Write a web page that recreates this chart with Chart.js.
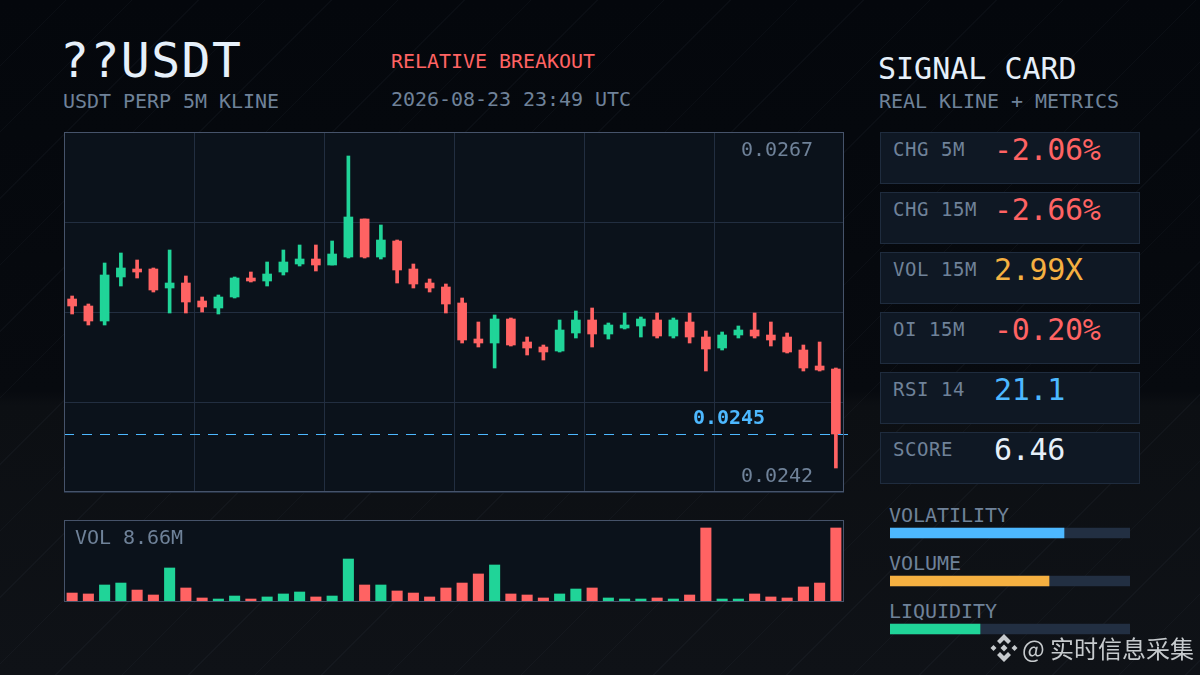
<!DOCTYPE html>
<html>
<head>
<meta charset="utf-8">
<script src="https://cdn.jsdelivr.net/npm/chart.js@4"></script>
<style>
  html, body { margin: 0; padding: 0; }
  body {
    width: 1200px; height: 675px; overflow: hidden; position: relative;
    font-family: "DejaVu Sans Mono", monospace;
    background:
      repeating-linear-gradient(135deg, transparent 0 46px, rgba(150,170,200,.04) 46px 47px),
      linear-gradient(180deg, #04070c 0%, #070a0f 58%, #0c0f13 60%, #0f1217 100%);
  }
  .t { position: absolute; white-space: pre; line-height: 1; }
  .muted { color: #6f8299; }
  .s20 { font-size: 20px; letter-spacing: -0.04px; }
  .panel { position: absolute; background: #0b121b; }
  .frame { position: absolute; box-sizing: border-box; border: 1px solid #46536a; pointer-events: none; }
  canvas { position: absolute; }
  .card { position: absolute; left: 880px; width: 260px; height: 52px; box-sizing: border-box; background: #0f1824; border: 1px solid #1f2c3e; }
  .card .lab { position: absolute; left: 12px; top: 7px; font-size: 19px; letter-spacing: .56px; line-height: 1; white-space: pre; color: #6f8299; }
  .card .val { position: absolute; left: 113px; top: 2px; font-size: 30px; letter-spacing: -.3px; line-height: 1; white-space: pre; }
</style>
</head>
<body>
<div class="t" style="left:60px;top:36px;font-size:48px;letter-spacing:1.5px;color:#e6f0fa">??USDT</div>
<div class="t muted s20" style="left:63px;top:91px">USDT PERP 5M KLINE</div>
<div class="t s20" style="left:391px;top:51px;color:#ff6363">RELATIVE BREAKOUT</div>
<div class="t muted s20" style="left:391px;top:89px">2026-08-23 23:49 UTC</div>
<div class="t" style="left:878px;top:54px;font-size:30px;color:#e6f0fa">SIGNAL CARD</div>
<div class="t muted s20" style="left:879px;top:91px">REAL KLINE + METRICS</div>

<div class="panel" style="left:64px;top:132px;width:780px;height:360px"></div>
<canvas id="candles" style="left:63px;top:131px"></canvas>
<div class="frame" style="left:64px;top:132px;width:780px;height:360px"></div>
<div class="t muted s20" style="left:741px;top:139px">0.0267</div>
<div class="t s20" style="left:693px;top:407px;color:#4db8ff;font-weight:bold">0.0245</div>
<div class="t muted s20" style="left:741px;top:465px">0.0242</div>

<div class="panel" style="left:64px;top:520px;width:780px;height:82px"></div>
<canvas id="volume" style="left:64px;top:520px"></canvas>
<div class="frame" style="left:64px;top:520px;width:780px;height:82px"></div>
<div class="t muted s20" style="left:75px;top:527px">VOL 8.66M</div>

<div id="cards"></div>
<div id="meterLabels"></div>
<canvas id="meters" style="left:890px;top:509px"></canvas>

<svg style="position:absolute;left:989px;top:633px" width="30" height="30" viewBox="0 0 30 30">
  <g fill="#c6cacd">
    <path d="M15 1l7 7-3 3-4-4-4 4-3-3z"/>
    <path d="M15 29l7-7-3-3-4 4-4-4-3 3z"/>
    <path d="M4.500 12l3 3-3 3-3-3z"/>
    <path d="M25.500 12l3 3-3 3-3-3z"/>
    <path d="M15 11.500l3.500 3.500-3.500 3.500-3.500-3.500z"/>
  </g>
</svg>
<div class="t" style="left:1022px;top:636px;font-family:'Noto Sans CJK SC';font-size:24px;color:#c6cacd">@ 实时信息采集</div>

<script>
const highs = [0.025568,0.025504,0.025832,0.025912,0.025856,0.025792,0.025936,0.025728,0.02556,0.025576,0.02572,0.02576,0.02584,0.025936,0.025976,0.025976,0.026008,0.026688,0.026184,0.026136,0.026016,0.025824,0.025704,0.025664,0.025552,0.02536,0.025416,0.025392,0.02524,0.025176,0.025376,0.025448,0.025472,0.025352,0.025432,0.0254,0.025432,0.025392,0.025432,0.025288,0.02528,0.025328,0.025432,0.02536,0.025272,0.025176,0.0252,0.024992];
const lows = [0.025424,0.025336,0.025336,0.025648,0.025712,0.0256,0.025432,0.025432,0.02544,0.025424,0.025552,0.02568,0.025648,0.025736,0.025808,0.025768,0.025816,0.025872,0.025872,0.025864,0.025672,0.025632,0.0256,0.025432,0.025192,0.02516,0.024992,0.025168,0.025096,0.025056,0.02512,0.025232,0.02516,0.025224,0.025304,0.02524,0.025232,0.025232,0.025192,0.024968,0.025136,0.025232,0.025232,0.025168,0.025112,0.024968,0.024968,0.024192];
const opens = [0.025544,0.025488,0.025368,0.02572,0.025784,0.025784,0.025632,0.025672,0.025528,0.025472,0.02556,0.025712,0.025688,0.02576,0.025824,0.025864,0.025816,0.02588,0.026184,0.02588,0.026008,0.025784,0.025672,0.02564,0.025512,0.025224,0.025192,0.025384,0.0252,0.02516,0.025128,0.025272,0.025376,0.025264,0.025312,0.025328,0.025376,0.025248,0.02536,0.02524,0.025152,0.025256,0.025296,0.025256,0.02524,0.025136,0.025008,0.024984];
const closes = [0.025488,0.025368,0.025736,0.025792,0.02576,0.025616,0.025672,0.02552,0.02548,0.02556,0.025712,0.025688,0.025744,0.02584,0.025864,0.025816,0.025904,0.0262,0.02588,0.026016,0.025776,0.025664,0.025632,0.025504,0.025216,0.025192,0.025384,0.025176,0.025152,0.02512,0.025296,0.025376,0.025264,0.025336,0.025336,0.025384,0.025248,0.025376,0.02524,0.025144,0.025256,0.025296,0.025248,0.025216,0.02512,0.024992,0.024976,0.024464];
const volumes = [1.05,0.94,1.99,2.22,1.40,0.82,3.98,1.64,0.47,0.35,0.70,0.35,0.59,0.94,1.17,0.59,0.70,5.03,1.99,1.99,1.29,1.05,0.59,1.64,2.22,3.28,4.33,0.94,0.82,0.47,0.94,1.52,1.64,0.47,0.35,0.35,0.47,0.35,0.82,8.66,0.35,0.35,0.94,0.59,0.47,1.76,2.22,8.66];
const gridPrices = [0.024,0.02472,0.02544,0.02616,0.02688];
const lastPrice = 0.024464;

const cardLabels = ["CHG 5M","CHG 15M","VOL 15M","OI 15M","RSI 14","SCORE"];
const cardValues = ["-2.06%","-2.66%","2.99X","-0.20%","21.1","6.46"];
const cardColors = ["#ff6363","#ff6363","#f5b041","#ff6363","#4db8ff","#e6f0fa"];

const meterNames = ["VOLATILITY","VOLUME","LIQUIDITY"];
const meterValues = [72.5,66.25,37.5];
const meterColors = ["#4db8ff","#f5b041","#20d498"];

const GREEN = "#20d498", RED = "#ff6363";
const labels = opens.map((_, i) => i + 1);
const colors = opens.map((o, i) => closes[i] >= o ? GREEN : RED);

cardLabels.forEach((l, i) => {
  const c = document.createElement("div");
  c.className = "card";
  c.style.top = (132 + i * 60) + "px";
  c.innerHTML = `<div class="lab">${l}</div><div class="val" style="color:${cardColors[i]}">${cardValues[i]}</div>`;
  document.getElementById("cards").appendChild(c);
});
meterNames.forEach((n, i) => {
  const d = document.createElement("div");
  d.className = "t muted s20";
  d.style.left = "889px";
  d.style.top = (505 + i * 48) + "px";
  d.textContent = n;
  document.getElementById("meterLabels").appendChild(d);
});

// dashed last price line, runs a little past the panel
const lastLine = {
  id: "lastLine",
  afterDatasetsDraw(chart) {
    const { ctx, chartArea, scales } = chart;
    const y = Math.floor(scales.y.getPixelForValue(lastPrice)) + 0.5;
    ctx.save();
    ctx.strokeStyle = "#4db8ff";
    ctx.lineWidth = 1;
    ctx.setLineDash([10, 8]);
    ctx.beginPath();
    ctx.moveTo(chartArea.left, y);
    ctx.lineTo(chartArea.right + 4, y);
    ctx.stroke();
    ctx.restore();
  }
};

function sized(id, w, h) {
  const c = document.getElementById(id);
  c.width = w; c.height = h;
  c.style.width = w + "px"; c.style.height = h + "px";
  return c.getContext("2d");
}

new Chart(sized("candles", 792, 362), {
  type: "bar",
  data: {
    labels,
    datasets: [
      { data: lows.map((l, i) => [l, highs[i]]), backgroundColor: colors, barThickness: 3, grouped: false, borderSkipped: false },
      { data: opens.map((o, i) => [o, closes[i]]), backgroundColor: colors, barThickness: 9, grouped: false, borderSkipped: false }
    ]
  },
  options: {
    responsive: false, animation: false, devicePixelRatio: 1,
    layout: { padding: { left: 1, top: 1, right: 11, bottom: 1 } },
    plugins: { legend: { display: false }, tooltip: { enabled: false } },
    scales: {
      x: {
        offset: true,
        ticks: { display: false, autoSkip: false },
        border: { display: false },
        grid: { offset: true, drawTicks: false, color: c => c.index % 8 === 0 ? "#222e40" : "transparent" }
      },
      y: {
        min: 0.024, max: 0.02688,
        afterBuildTicks: axis => { axis.ticks = gridPrices.map(v => ({ value: v })); },
        ticks: { display: false },
        border: { display: false },
        grid: { drawTicks: false, color: "#222e40" }
      }
    }
  },
  plugins: [lastLine]
});

new Chart(sized("volume", 780, 82), {
  type: "bar",
  data: { labels, datasets: [{ data: volumes, backgroundColor: colors, barThickness: 10.4 }] },
  options: {
    responsive: false, animation: false, devicePixelRatio: 1,
    plugins: { legend: { display: false }, tooltip: { enabled: false } },
    scales: {
      x: { display: false, offset: true },
      y: { display: false, min: 0, max: 9.594 }
    }
  }
});

new Chart(sized("meters", 240, 144), {
  type: "bar",
  data: {
    labels: meterNames,
    datasets: [
      { data: meterValues, backgroundColor: meterColors, barThickness: 10, grouped: false, order: 1 },
      { data: meterNames.map(() => 100), backgroundColor: "#222f42", barThickness: 10, grouped: false, order: 2 }
    ]
  },
  options: {
    indexAxis: "y", responsive: false, animation: false, devicePixelRatio: 1,
    plugins: { legend: { display: false }, tooltip: { enabled: false } },
    scales: {
      x: { display: false, min: 0, max: 100 },
      y: { display: false }
    }
  }
});
</script>
</body>
</html>
